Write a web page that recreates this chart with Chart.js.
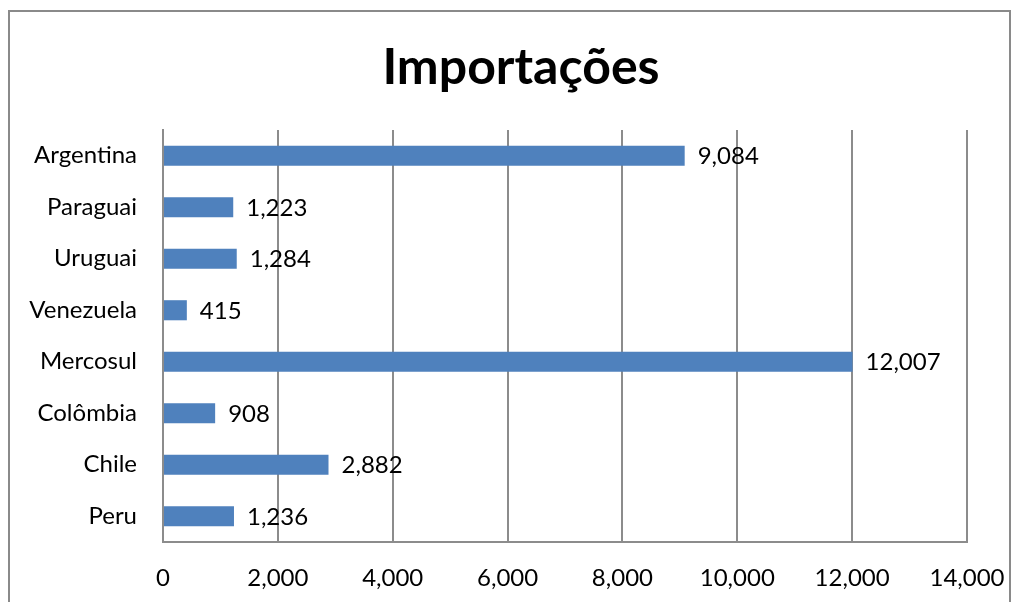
<!DOCTYPE html>
<html>
<head>
<meta charset="utf-8">
<script src="https://cdn.jsdelivr.net/npm/chart.js@4"></script>
<style>
  html, body { margin: 0; padding: 0; background: #fff; }
  #wrap { position: relative; width: 1020px; height: 602px; overflow: hidden; }
  #frame { position: absolute; left: 8px; top: 10px; width: 1003px; height: 620px; border: 2px solid #8a8a8a; box-sizing: border-box; }
  canvas { position: absolute; left: 0; top: 0; }
</style>
</head>
<body>
<div id="wrap">
  <div id="frame"></div>
  <canvas id="chart" width="1020" height="602"></canvas>
</div>
<script>
const countries = ['Argentina', 'Paraguai', 'Uruguai', 'Venezuela', 'Mercosul', 'Colômbia', 'Chile', 'Peru']
const imports = [9084, 1223, 1284, 415, 12007, 908, 2882, 1236]
const xMax = 14000
const xStep = 2000
const titleText = 'Importações'

const fontFamily = "Lato, 'Open Sans', sans-serif"

// draws the value next to each bar, and the title centred on the frame
const valueLabels = {
  id: 'valueLabels',
  afterDatasetsDraw(chart) {
    const ctx = chart.ctx
    const meta = chart.getDatasetMeta(0)
    ctx.save()
    ctx.font = '24px ' + fontFamily
    ctx.fillStyle = '#000'
    ctx.textBaseline = 'middle'
    ctx.textAlign = 'left'
    meta.data.forEach((bar, i) => {
      ctx.fillText(imports[i].toLocaleString('en-US'), bar.x + 13, bar.y + 1)
    })
    ctx.font = 'bold 50px ' + fontFamily
    ctx.textAlign = 'center'
    ctx.fillText(titleText, chart.width / 2 + 11, 68)
    ctx.restore()
  }
}

const chart = new Chart(document.getElementById('chart').getContext('2d'), {
  type: 'bar',
  data: {
    labels: countries,
    datasets: [{
      label: titleText,
      data: imports,
      backgroundColor: '#4f81bd',
      categoryPercentage: 1,
      barPercentage: 0.39
    }]
  },
  options: {
    indexAxis: 'y',
    responsive: false,
    animation: false,
    layout: { padding: { left: 0, right: 53, top: 130, bottom: 0 } },
    plugins: {
      legend: { display: false },
      tooltip: { enabled: false },
      title: { display: false }
    },
    scales: {
      x: {
        min: 0,
        max: xMax,
        ticks: {
          stepSize: xStep,
          color: '#000',
          padding: 22,
          font: { family: fontFamily, size: 24 },
          callback: v => v.toLocaleString('en-US')
        },
        grid: { color: '#8c8c8c', lineWidth: 2, drawTicks: false },
        border: { display: true, color: '#8c8c8c', width: 2 },
        afterFit: s => { s.height = 60; s.paddingRight = 0; s.paddingLeft = 0 }
      },
      y: {
        ticks: {
          color: '#000',
          padding: 26,
          font: { family: fontFamily, size: 24 }
        },
        grid: { display: false, drawTicks: false },
        border: { display: true, color: '#8c8c8c', width: 2 },
        afterFit: s => { s.width = 163 }
      }
    }
  },
  plugins: [valueLabels]
})
</script>
</body>
</html>
